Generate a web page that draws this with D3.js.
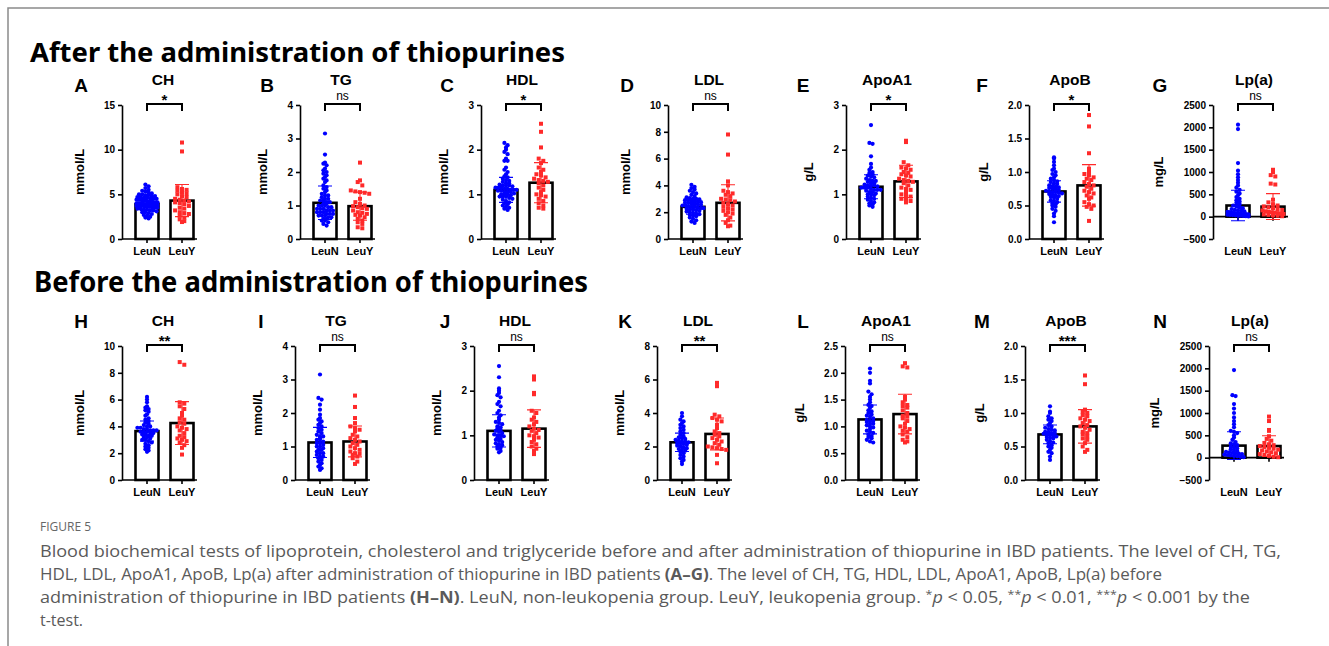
<!DOCTYPE html>
<html>
<head>
<meta charset="utf-8">
<script src="https://cdn.jsdelivr.net/npm/d3@7"></script>
<style>
  body { margin: 0; background: #fff; }
  svg { display: block; }
</style>
</head>
<body>
<div id="chart"></div>
<script>
// ---- data ----
const groups = ["LeuN", "LeuY"];
const analytes = ["CH", "TG", "HDL", "LDL", "ApoA1", "ApoB", "Lp(a)"];
const units = ["mmol/L", "mmol/L", "mmol/L", "mmol/L", "g/L", "g/L", "mg/L"];
const lettersAfter = ["A", "B", "C", "D", "E", "F", "G"];
const lettersBefore = ["H", "I", "J", "K", "L", "M", "N"];
const sigAfter = ["*", "ns", "*", "ns", "*", "*", "ns"];
const sigBefore = ["**", "ns", "ns", "**", "ns", "***", "ns"];

const ticksAfter = [
  [0, 5, 10, 15], [0, 1, 2, 3, 4], [0, 1, 2, 3], [0, 2, 4, 6, 8, 10],
  [0, 1, 2, 3], [0, 0.5, 1, 1.5, 2], [-500, 0, 500, 1000, 1500, 2000, 2500]
];
const ticksBefore = [
  [0, 2, 4, 6, 8, 10], [0, 1, 2, 3, 4], [0, 1, 2, 3], [0, 2, 4, 6, 8],
  [0, 0.5, 1, 1.5, 2, 2.5], [0, 0.5, 1, 1.5, 2], [-500, 0, 500, 1000, 1500, 2000, 2500]
];

// bar = mean, error bar = SD
const meanAfterN = [3.9, 1.08, 1.1, 2.4, 1.17, 0.71, 250];
const sdAfterN   = [0.7, 0.5, 0.28, 0.55, 0.27, 0.16, 340];
const meanAfterY = [4.3, 0.98, 1.26, 2.7, 1.29, 0.80, 225];
const sdAfterY   = [1.8, 0.42, 0.45, 1.35, 0.36, 0.31, 290];
const meanBeforeN = [3.65, 1.12, 1.1, 2.25, 1.13, 0.68, 270];
const sdBeforeN   = [0.75, 0.45, 0.36, 0.55, 0.27, 0.14, 310];
const meanBeforeY = [4.25, 1.15, 1.15, 2.75, 1.23, 0.8, 260];
const sdBeforeY   = [1.6, 0.46, 0.42, 0.95, 0.37, 0.25, 230];

// individual patients, after thiopurines
const afterCH_N = [6.1, 5.9, 5.7, 5.5, 5.4, 5.3, 5.2, 5.1, 5.0, 5.0, 4.9, 4.9, 4.8, 4.8, 4.7, 4.7, 4.6, 4.6,
  4.5, 4.5, 4.5, 4.4, 4.4, 4.4, 4.3, 4.3, 4.3, 4.2, 4.2, 4.2, 4.1, 4.1, 4.1, 4.0, 4.0, 4.0, 4.0, 3.9, 3.9,
  3.9, 3.9, 3.8, 3.8, 3.8, 3.8, 3.7, 3.7, 3.7, 3.6, 3.6, 3.6, 3.5, 3.5, 3.5, 3.4, 3.4, 3.3, 3.3, 3.2, 3.2,
  3.1, 3.0, 3.0, 2.9, 2.8, 2.7, 2.6, 2.5, 2.4, 2.3];
const afterCH_Y = [10.8, 9.8, 5.8, 5.6, 5.5, 5.4, 5.2, 5.1, 5.0, 4.8, 4.7, 4.5, 4.4, 4.3, 4.2, 4.1, 4.0,
  3.9, 3.7, 3.5, 3.4, 3.2, 3.0, 2.9, 2.8, 2.6, 2.4, 2.2, 2.0, 1.9];
const afterTG_N = [3.15, 2.52, 2.28, 2.25, 2.2, 2.1, 2.05, 2.0, 1.95, 1.9, 1.85, 1.8, 1.75, 1.7, 1.6, 1.55,
  1.5, 1.45, 1.4, 1.35, 1.3, 1.3, 1.25, 1.2, 1.2, 1.15, 1.15, 1.1, 1.1, 1.05, 1.05, 1.0, 1.0, 1.0, 0.95,
  0.95, 0.9, 0.9, 0.9, 0.85, 0.85, 0.85, 0.8, 0.8, 0.8, 0.75, 0.75, 0.75, 0.7, 0.7, 0.7, 0.65, 0.65, 0.6,
  0.6, 0.55, 0.55, 0.5, 0.45, 0.4];
const afterTG_Y = [2.28, 1.75, 1.7, 1.6, 1.45, 1.42, 1.4, 1.38, 1.35, 1.2, 1.1, 1.05, 1.0, 0.98, 0.95, 0.92,
  0.9, 0.85, 0.8, 0.78, 0.75, 0.72, 0.7, 0.65, 0.6, 0.55, 0.5, 0.45, 0.35, 0.32];
const afterHDL_N = [2.15, 2.1, 2.05, 2.0, 1.95, 1.9, 1.8, 1.75, 1.75, 1.6, 1.55, 1.5, 1.45, 1.4, 1.38, 1.35,
  1.32, 1.3, 1.28, 1.25, 1.25, 1.22, 1.2, 1.2, 1.2, 1.18, 1.15, 1.15, 1.15, 1.12, 1.12, 1.1, 1.1, 1.1, 1.08,
  1.08, 1.05, 1.05, 1.05, 1.02, 1.0, 1.0, 1.0, 0.98, 0.95, 0.95, 0.95, 0.92, 0.9, 0.88, 0.85, 0.82, 0.8,
  0.78, 0.75, 0.72, 0.7, 0.68, 0.65];
const afterHDL_Y = [2.58, 2.4, 2.05, 1.8, 1.75, 1.7, 1.6, 1.55, 1.5, 1.45, 1.42, 1.38, 1.35, 1.32, 1.3, 1.28,
  1.25, 1.2, 1.15, 1.1, 1.05, 1.0, 0.98, 0.95, 0.9, 0.85, 0.8, 0.75, 0.7, 0.68];
const afterLDL_N = [4.05, 3.9, 3.8, 3.7, 3.6, 3.5, 3.4, 3.3, 3.2, 3.1, 3.05, 3.0, 3.0, 2.95, 2.9, 2.9, 2.85,
  2.8, 2.8, 2.75, 2.7, 2.7, 2.65, 2.6, 2.6, 2.55, 2.5, 2.5, 2.45, 2.4, 2.4, 2.35, 2.3, 2.3, 2.25, 2.2, 2.2,
  2.15, 2.1, 2.05, 2.0, 1.95, 1.9, 1.85, 1.8, 1.75, 1.7, 1.6, 1.5, 1.4, 1.3, 1.2];
const afterLDL_Y = [7.8, 6.3, 4.3, 4.0, 3.6, 3.5, 3.4, 3.3, 3.2, 3.0, 2.95, 2.9, 2.8, 2.7, 2.6, 2.5, 2.4,
  2.3, 2.2, 2.1, 2.0, 1.9, 1.8, 1.6, 1.4, 1.2, 1.0, 0.95];
const afterApoA1_N = [2.55, 2.15, 2.13, 1.85, 1.68, 1.6, 1.55, 1.5, 1.48, 1.45, 1.42, 1.4, 1.38, 1.35, 1.32,
  1.3, 1.3, 1.28, 1.25, 1.25, 1.22, 1.2, 1.2, 1.2, 1.18, 1.15, 1.15, 1.15, 1.12, 1.1, 1.1, 1.1, 1.08, 1.05,
  1.05, 1.02, 1.0, 1.0, 0.98, 0.95, 0.92, 0.9, 0.88, 0.85, 0.82, 0.8, 0.78, 0.75, 0.72];
const afterApoA1_Y = [2.2, 2.17, 1.72, 1.65, 1.6, 1.58, 1.55, 1.5, 1.48, 1.45, 1.42, 1.4, 1.35, 1.32, 1.3,
  1.28, 1.25, 1.2, 1.15, 1.12, 1.1, 1.05, 1.0, 0.98, 0.95, 0.9, 0.88, 0.85, 0.82];
const afterApoB_N = [1.22, 1.2, 1.15, 1.1, 1.05, 1.03, 1.0, 0.97, 0.95, 0.92, 0.9, 0.88, 0.86, 0.85, 0.83,
  0.82, 0.8, 0.79, 0.78, 0.77, 0.76, 0.75, 0.74, 0.73, 0.72, 0.71, 0.7, 0.7, 0.69, 0.68, 0.67, 0.66, 0.65,
  0.64, 0.63, 0.62, 0.6, 0.58, 0.57, 0.55, 0.53, 0.52, 0.5, 0.48, 0.45, 0.42, 0.38, 0.34, 0.25];
const afterApoB_Y = [1.85, 1.68, 1.28, 1.05, 1.0, 0.97, 0.95, 0.92, 0.9, 0.88, 0.85, 0.82, 0.8, 0.78, 0.75,
  0.72, 0.7, 0.68, 0.65, 0.62, 0.6, 0.55, 0.52, 0.5, 0.48, 0.45, 0.27];
const afterLpa_N = [2060, 1960, 1200, 1030, 950, 880, 820, 760, 700, 650, 600, 560, 520, 480, 440, 400, 370,
  340, 310, 280, 250, 230, 210, 190, 170, 150, 140, 130, 120, 110, 100, 90, 80, 75, 70, 65, 60, 55, 50, 45,
  40, 35, 30, 25, 20, 15, 10, 5];
const afterLpa_Y = [1050, 1000, 930, 900, 740, 720, 380, 320, 280, 250, 230, 210, 190, 170, 150, 140, 120,
  110, 100, 90, 80, 70, 60, 50, 40, 30, 20, 10];

// individual patients, before thiopurines
const beforeCH_N = [6.2, 6.0, 5.8, 5.5, 5.4, 5.3, 5.2, 5.1, 4.9, 4.8, 4.6, 4.5, 4.4, 4.3, 4.2, 4.1, 4.0, 4.0,
  3.9, 3.9, 3.8, 3.8, 3.7, 3.7, 3.7, 3.6, 3.6, 3.6, 3.5, 3.5, 3.4, 3.4, 3.3, 3.3, 3.2, 3.2, 3.1, 3.0, 3.0,
  2.9, 2.8, 2.7, 2.6, 2.5, 2.4, 2.3, 2.2, 2.1];
const beforeCH_Y = [8.8, 8.6, 5.8, 5.7, 5.5, 5.3, 5.0, 4.8, 4.6, 4.5, 4.3, 4.2, 4.0, 3.9, 3.8, 3.7, 3.5, 3.3,
  3.2, 3.1, 3.0, 2.9, 2.8, 2.6, 2.4, 1.9];
const beforeTG_N = [3.15, 2.45, 2.4, 2.25, 2.1, 1.95, 1.85, 1.8, 1.75, 1.7, 1.65, 1.6, 1.55, 1.5, 1.45, 1.4,
  1.35, 1.3, 1.3, 1.25, 1.2, 1.2, 1.15, 1.1, 1.1, 1.05, 1.0, 1.0, 0.95, 0.9, 0.9, 0.85, 0.8, 0.8, 0.75,
  0.7, 0.7, 0.65, 0.6, 0.55, 0.5, 0.45, 0.4, 0.35, 0.3];
const beforeTG_Y = [2.52, 2.18, 1.85, 1.7, 1.6, 1.55, 1.5, 1.45, 1.35, 1.3, 1.25, 1.2, 1.15, 1.1, 1.05, 1.0,
  0.95, 0.9, 0.85, 0.8, 0.78, 0.75, 0.7, 0.65, 0.55, 0.48];
const beforeHDL_N = [2.55, 2.3, 2.05, 2.0, 1.95, 1.9, 1.85, 1.75, 1.7, 1.65, 1.55, 1.5, 1.45, 1.4, 1.35, 1.3,
  1.28, 1.25, 1.2, 1.18, 1.15, 1.12, 1.1, 1.08, 1.05, 1.02, 1.0, 1.0, 0.98, 0.95, 0.92, 0.9, 0.88, 0.85,
  0.82, 0.8, 0.78, 0.75, 0.72, 0.7, 0.65, 0.62];
const beforeHDL_Y = [2.32, 2.25, 1.95, 1.92, 1.55, 1.5, 1.4, 1.35, 1.3, 1.25, 1.2, 1.15, 1.12, 1.1, 1.05, 1.0,
  0.98, 0.95, 0.9, 0.85, 0.8, 0.75, 0.7, 0.65, 0.58];
const beforeLDL_N = [4.0, 3.8, 3.6, 3.5, 3.4, 3.3, 3.2, 3.1, 3.0, 2.9, 2.8, 2.7, 2.6, 2.55, 2.5, 2.45, 2.4,
  2.35, 2.3, 2.3, 2.25, 2.2, 2.2, 2.15, 2.1, 2.05, 2.0, 1.95, 1.9, 1.85, 1.8, 1.75, 1.7, 1.6, 1.5, 1.4,
  1.3, 1.2, 1.1, 0.95];
const beforeLDL_Y = [5.8, 5.6, 3.9, 3.8, 3.7, 3.6, 3.5, 3.3, 3.1, 2.9, 2.8, 2.7, 2.6, 2.5, 2.4, 2.3, 2.2,
  2.1, 2.0, 1.95, 1.9, 1.85, 1.8, 1.5, 1.0];
const beforeApoA1_N = [2.08, 2.0, 1.85, 1.8, 1.65, 1.6, 1.55, 1.5, 1.45, 1.4, 1.38, 1.35, 1.3, 1.28, 1.25,
  1.22, 1.2, 1.18, 1.15, 1.12, 1.1, 1.1, 1.08, 1.05, 1.05, 1.02, 1.0, 0.98, 0.95, 0.92, 0.9, 0.88, 0.85,
  0.82, 0.8, 0.78, 0.75, 0.72, 0.7];
const beforeApoA1_Y = [2.18, 2.12, 2.1, 1.55, 1.5, 1.45, 1.4, 1.38, 1.35, 1.3, 1.25, 1.2, 1.18, 1.15, 1.1,
  1.05, 1.0, 0.98, 0.95, 0.92, 0.9, 0.85, 0.8, 0.75, 0.72, 0.7];
const beforeApoB_N = [1.1, 1.02, 1.0, 0.95, 0.92, 0.9, 0.88, 0.85, 0.82, 0.8, 0.78, 0.76, 0.75, 0.74, 0.72,
  0.71, 0.7, 0.7, 0.69, 0.68, 0.67, 0.66, 0.65, 0.64, 0.63, 0.62, 0.6, 0.58, 0.56, 0.55, 0.52, 0.5, 0.48,
  0.45, 0.42, 0.4, 0.35, 0.3];
const beforeApoB_Y = [1.56, 1.43, 1.05, 1.02, 1.0, 0.97, 0.95, 0.92, 0.9, 0.88, 0.85, 0.82, 0.8, 0.78, 0.75,
  0.72, 0.7, 0.68, 0.65, 0.62, 0.6, 0.55, 0.5, 0.45, 0.42];
const beforeLpa_N = [1960, 1400, 1380, 1200, 1100, 1000, 900, 820, 750, 680, 600, 580, 550, 500, 450, 400,
  350, 320, 300, 280, 250, 230, 210, 190, 170, 150, 130, 120, 110, 100, 90, 80, 70, 60, 50, 40, 30, 20, 10];
const beforeLpa_Y = [920, 820, 620, 600, 480, 420, 380, 330, 300, 280, 260, 240, 220, 200, 180, 160, 140,
  120, 100, 80, 60, 40, 20, 10];

// ---- layout ----
const width = 1329, height = 646;

const rows = [
  {
    letters: lettersAfter, ticks: ticksAfter, sig: sigAfter,
    meanN: meanAfterN, sdN: sdAfterN, meanY: meanAfterY, sdY: sdAfterY,
    ptsN: [afterCH_N, afterTG_N, afterHDL_N, afterLDL_N, afterApoA1_N, afterApoB_N, afterLpa_N],
    ptsY: [afterCH_Y, afterTG_Y, afterHDL_Y, afterLDL_Y, afterApoA1_Y, afterApoB_Y, afterLpa_Y],
    x0: [122, 300, 481, 668, 846, 1029, 1213],
    letterX: [81, 267, 447, 627, 803, 982, 1160],
    letterY: 92,
    top: 105, bottom: 239
  },
  {
    letters: lettersBefore, ticks: ticksBefore, sig: sigBefore,
    meanN: meanBeforeN, sdN: sdBeforeN, meanY: meanBeforeY, sdY: sdBeforeY,
    ptsN: [beforeCH_N, beforeTG_N, beforeHDL_N, beforeLDL_N, beforeApoA1_N, beforeApoB_N, beforeLpa_N],
    ptsY: [beforeCH_Y, beforeTG_Y, beforeHDL_Y, beforeLDL_Y, beforeApoA1_Y, beforeApoB_Y, beforeLpa_Y],
    x0: [122, 295, 474, 657, 845, 1025, 1209],
    letterX: [81, 261, 445, 625, 803, 982, 1160],
    letterY: 328,
    top: 346, bottom: 480
  }
];

const svg = d3.select('#chart').append('svg')
    .attr('width', width)
    .attr('height', height)
    .style('font-family', '"Liberation Sans", Arial, sans-serif');

// frame
svg.append('path')
    .attr('d', `M8,${height}V8H${width}`)
    .attr('fill', 'none')
    .attr('stroke', '#8a8a8a')
    .attr('stroke-width', 1.5);

// section headings
svg.append('text')
    .attr('x', 30).attr('y', 62)
    .attr('textLength', 535).attr('lengthAdjust', 'spacingAndGlyphs')
    .style('font-family', '"Noto Sans", "Open Sans", sans-serif')
    .style('font-weight', 700).style('font-size', '27px')
    .text('After the administration of thiopurines');

svg.append('text')
    .attr('x', 34).attr('y', 292)
    .attr('textLength', 554).attr('lengthAdjust', 'spacingAndGlyphs')
    .style('font-family', '"Noto Sans", "Open Sans", sans-serif')
    .style('font-weight', 700).style('font-size', '28px')
    .text('Before the administration of thiopurines');

// simple GraphPad-like scatter: points in the same pixel row are spread sideways
function swarm(vals, y, cx, rowH, step, maxW) {
    let rowsMap = d3.group(vals.map(v => ({ v: v, py: y(v) })), d => Math.round(d.py / rowH));
    let out = [];
    for (const [k, arr] of rowsMap) {
        let n = arr.length;
        let s = n > 1 ? Math.min(step, maxW / (n - 1)) : 0;
        arr.forEach((d, i) => out.push({ x: cx + (i - (n - 1) / 2) * s, y: d.py }));
    }
    return out;
}

function drawPanel(row, i) {
    let ticks = row.ticks[i];
    let x0 = row.x0[i];
    let y = d3.scaleLinear()
              .domain([ticks[0], ticks[ticks.length - 1]])
              .range([row.bottom, row.top]);
    let x = d3.scalePoint().domain(groups).range([25, 60]);
    let means = [row.meanN[i], row.meanY[i]];
    let sds = [row.sdN[i], row.sdY[i]];
    let pts = [row.ptsN[i], row.ptsY[i]];
    let colors = ['#0000ff', '#ff2a2a'];
    let y0 = y(0);

    let g = svg.append('g').attr('transform', `translate(${x0},0)`);

    // y axis
    let fmt = ticks.some(t => t % 1 !== 0) ? d3.format('.1f') : d3.format('d');
    let ya = g.append('g')
              .call(d3.axisLeft(y).tickValues(ticks).tickSize(4).tickSizeOuter(0).tickPadding(3).tickFormat(fmt));
    ya.selectAll('path, line').attr('stroke', '#000').attr('stroke-width', 1.6);
    ya.selectAll('text').style('font-size', '10px').style('font-weight', 700).attr('fill', '#000');
    let maxW = d3.max(ya.selectAll('text').nodes(), n => n.getComputedTextLength());

    // bars (mean)
    g.selectAll('rect.bar')
     .data(groups)
     .join('rect')
        .attr('class', 'bar')
        .attr('x', d => x(d) - 11.5)
        .attr('width', 23)
        .attr('y', (d, k) => y(means[k]))
        .attr('height', (d, k) => y0 - y(means[k]))
        .attr('fill', '#fff')
        .attr('stroke', '#000')
        .attr('stroke-width', 2.6);

    // x axis at zero
    g.append('path')
     .attr('d', `M0,${y0}H75`)
     .attr('stroke', '#000').attr('stroke-width', 1.6);
    g.selectAll('line.xt')
     .data(groups)
     .join('line')
        .attr('class', 'xt')
        .attr('x1', d => x(d)).attr('x2', d => x(d))
        .attr('y1', y0).attr('y2', y0 + 4)
        .attr('stroke', '#000').attr('stroke-width', 1.6);
    g.selectAll('text.xl')
     .data(groups)
     .join('text')
        .attr('class', 'xl')
        .attr('x', d => x(d))
        .attr('y', row.bottom + 16)
        .attr('text-anchor', 'middle')
        .style('font-size', '11px').style('font-weight', 700)
        .text(d => d);

    // points
    let blue = swarm(pts[0], y, x('LeuN'), 3, 3.2, 21);
    g.selectAll('circle.pt')
     .data(blue)
     .join('circle')
        .attr('class', 'pt')
        .attr('cx', d => d.x).attr('cy', d => d.y)
        .attr('r', 2.1)
        .attr('fill', colors[0]);
    let red = swarm(pts[1], y, x('LeuY'), 4, 4.6, 21);
    g.selectAll('rect.pt')
     .data(red)
     .join('rect')
        .attr('class', 'pt')
        .attr('x', d => d.x - 2).attr('y', d => d.y - 2)
        .attr('width', 4).attr('height', 4)
        .attr('fill', colors[1]);

    // SD error bars
    groups.forEach((grp, k) => {
        let cx = x(grp);
        let hi = y(means[k] + sds[k]), lo = y(means[k] - sds[k]);
        g.append('path')
         .attr('d', `M${cx},${lo}V${hi}M${cx - 7},${hi}H${cx + 7}M${cx - 7},${lo}H${cx + 7}`)
         .attr('fill', 'none')
         .attr('stroke', colors[k])
         .attr('stroke-width', 1.1);
    });

    // significance bracket
    let yb = row.top - 1;
    g.append('path')
     .attr('d', `M${x('LeuN')},${yb + 7}V${yb}H${x('LeuY')}V${yb + 7}`)
     .attr('fill', 'none')
     .attr('stroke', '#000')
     .attr('stroke-width', 2);
    let s = row.sig[i];
    g.append('text')
     .attr('x', (x('LeuN') + x('LeuY')) / 2)
     .attr('y', s === 'ns' ? yb - 4 : yb + 1)
     .attr('text-anchor', 'middle')
     .style('font-size', s === 'ns' ? '12px' : '15px')
     .style('font-weight', s === 'ns' ? 400 : 700)
     .text(s);

    // y label
    g.append('text')
     .attr('transform', `translate(${-maxW - 27},${(row.top + row.bottom) / 2}) rotate(-90)`)
     .attr('text-anchor', 'middle')
     .style('font-size', '13px').style('font-weight', 700)
     .text(units[i]);

    // title
    g.append('text')
     .attr('x', 41).attr('y', row.top - 20)
     .attr('text-anchor', 'middle')
     .style('font-size', '15.5px').style('font-weight', 700)
     .text(analytes[i]);

    // panel letter
    svg.append('text')
       .attr('x', row.letterX[i]).attr('y', row.letterY)
       .attr('text-anchor', 'middle')
       .style('font-size', '19px').style('font-weight', 700)
       .text(row.letters[i]);
}

rows.forEach(row => analytes.forEach((a, i) => drawPanel(row, i)));

// caption
let cap = svg.append('g')
             .style('font-family', '"Open Sans", "Noto Sans", sans-serif')
             .attr('fill', '#5a5a5a');

cap.append('text')
   .attr('x', 40).attr('y', 531)
   .style('font-size', '12px').attr('fill', '#666')
   .text('FIGURE 5');

cap.append('text')
   .attr('x', 40).attr('y', 557)
   .attr('textLength', 1241).attr('lengthAdjust', 'spacingAndGlyphs')
   .style('font-size', '16px')
   .text('Blood biochemical tests of lipoprotein, cholesterol and triglyceride before and after administration of thiopurine in IBD patients. The level of CH, TG,');

let l2 = cap.append('text')
   .attr('x', 40).attr('y', 580)
   .attr('textLength', 1122).attr('lengthAdjust', 'spacingAndGlyphs')
   .style('font-size', '16px');
l2.append('tspan').text('HDL, LDL, ApoA1, ApoB, Lp(a) after administration of thiopurine in IBD patients ');
l2.append('tspan').style('font-weight', 700).text('(A\u2013G)');
l2.append('tspan').text('. The level of CH, TG, HDL, LDL, ApoA1, ApoB, Lp(a) before');

let l3 = cap.append('text')
   .attr('x', 40).attr('y', 603)
   .attr('textLength', 1210).attr('lengthAdjust', 'spacingAndGlyphs')
   .style('font-size', '16px');
l3.append('tspan').text('administration of thiopurine in IBD patients ');
l3.append('tspan').style('font-weight', 700).text('(H\u2013N)');
l3.append('tspan').text('. LeuN, non-leukopenia group. LeuY, leukopenia group. ');
l3.append('tspan').attr('dy', -5).style('font-size', '11px').text('*');
l3.append('tspan').attr('dy', 5).style('font-style', 'italic').text('p');
l3.append('tspan').text(' < 0.05, ');
l3.append('tspan').attr('dy', -5).style('font-size', '11px').text('**');
l3.append('tspan').attr('dy', 5).style('font-style', 'italic').text('p');
l3.append('tspan').text(' < 0.01, ');
l3.append('tspan').attr('dy', -5).style('font-size', '11px').text('***');
l3.append('tspan').attr('dy', 5).style('font-style', 'italic').text('p');
l3.append('tspan').text(' < 0.001 by the');

cap.append('text')
   .attr('x', 40).attr('y', 626)
   .style('font-size', '16px')
   .text('t-test.');
</script>
</body>
</html>
